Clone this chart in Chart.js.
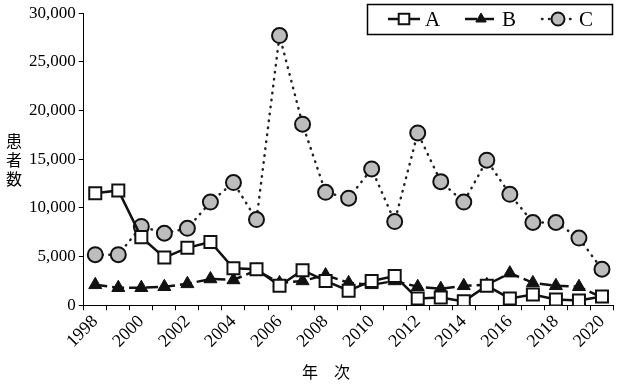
<!DOCTYPE html>
<html>
<head>
<meta charset="utf-8">
<script src="https://cdn.jsdelivr.net/npm/chart.js@4/dist/chart.umd.min.js"></script>
<style>
  html,body{margin:0;padding:0;background:#fff;}
  #wrap{width:624px;height:385px;position:relative;}
</style>
</head>
<body>
<div id="wrap"><canvas id="chart"></canvas></div>
<script>
const years = ['1998','1999','2000','2001','2002','2003','2004','2005','2006','2007','2008','2009',
  '2010','2011','2012','2013','2014','2015','2016','2017','2018','2019','2020'];
const seriesA = [11500,11800,7000,4900,5900,6500,3800,3700,2000,3600,2500,1500,2500,3000,700,800,400,2000,700,1100,600,500,900];
const seriesB = [2100,1800,1800,1900,2200,2700,2600,3600,2300,2500,3100,2300,2100,2500,1900,1700,2000,2100,3300,2300,2000,1900,800];
const seriesC = [5200,5200,8100,7400,7900,10600,12600,8800,27700,18600,11600,11000,14000,8600,17700,12700,10600,14900,11400,8500,8500,6900,3700];
const yTitle = ['患','者','数'];
const xTitle = '年　次';

const serif = '"Liberation Serif", "DejaVu Serif", serif';
const cjk = '"Noto Sans CJK JP", sans-serif';

const overlay = {
  id:'overlay',
  afterDraw(chart){
    const {ctx} = chart;
    ctx.save();
    ctx.fillStyle = '#000';
    ctx.textAlign = 'center'; ctx.textBaseline = 'middle';
    ctx.font = '16px ' + cjk;
    yTitle.forEach((ch,i) => ctx.fillText(ch, 14, 141 + i*19));
    ctx.fillText(xTitle, 326, 372);

    // legend box inside the plot
    ctx.lineWidth = 1.5; ctx.strokeStyle = '#000';
    ctx.strokeRect(367.5, 4.5, 245, 30);
    const items = chart.data.datasets.map((ds,i) => ({ds, x: 388 + i*77}));
    items.forEach(({ds,x}) => {
      ctx.save();
      ctx.lineWidth = ds.borderWidth; ctx.strokeStyle = ds.borderColor;
      ctx.setLineDash(ds.borderDash || []); ctx.lineCap = ds.borderCapStyle || 'butt';
      ctx.beginPath(); ctx.moveTo(x, 19); ctx.lineTo(x+32, 19); ctx.stroke();
      ctx.restore();
      ctx.save();
      ctx.fillStyle = ds.pointBackgroundColor; ctx.strokeStyle = ds.pointBorderColor;
      ctx.lineWidth = ds.pointBorderWidth;
      Chart.helpers.drawPoint(ctx, {pointStyle: ds.pointStyle, radius: ds.legendRadius, borderWidth: ds.pointBorderWidth}, x+16, 19);
      ctx.restore();
      ctx.font = '21px ' + serif; ctx.textAlign = 'left';
      ctx.fillText(ds.label, x+37, 20);
    });
    ctx.restore();
  }
};

new Chart(document.getElementById('chart'), {
  type:'line',
  data:{ labels: years, datasets:[
    { label:'A', data:seriesA, borderColor:'#111', borderWidth:2.5, pointStyle:'rect', pointRadius:8.5, legendRadius:7.5,
      pointBackgroundColor:'#fff', pointBorderColor:'#111', pointBorderWidth:2, tension:0 },
    { label:'B', data:seriesB, borderColor:'#111', borderWidth:2.5, borderDash:[12,5], pointStyle:'triangle', pointRadius:7.5, legendRadius:6,
      pointBackgroundColor:'#111', pointBorderColor:'#111', pointBorderWidth:1, tension:0 },
    { label:'C', data:seriesC, borderColor:'#222', borderWidth:2.5, borderDash:[0.5,6.5], borderCapStyle:'round', pointStyle:'circle', pointRadius:7.5, legendRadius:6.5,
      pointBackgroundColor:'#bdbdbd', pointBorderColor:'#111', pointBorderWidth:2, tension:0 }
  ]},
  options:{
    responsive:true, maintainAspectRatio:false, animation:false,
    layout:{ padding:{ left:26, right:10, top:4, bottom:32 } },
    plugins:{ legend:{ display:false }, tooltip:{ enabled:false } },
    scales:{
      x:{
        offset:true,
        grid:{ display:true, offset:true, drawOnChartArea:false, drawTicks:true, tickLength:5, color:'#000' },
        border:{ color:'#000', width:1 },
        ticks:{ autoSkip:false, maxRotation:45, minRotation:45, color:'#000', font:{ family:serif, size:18 }, padding:1,
          callback(v,i){ return i % 2 === 0 ? this.getLabelForValue(v) : ''; } }
      },
      y:{
        min:0, max:30000,
        grid:{ display:true, drawOnChartArea:false, drawTicks:true, tickLength:5, color:'#000' },
        border:{ color:'#000', width:1 },
        ticks:{ stepSize:5000, color:'#000', font:{ family:serif, size:17 }, padding:3,
          callback:v => v.toLocaleString('en-US') }
      }
    }
  },
  plugins:[overlay]
});
</script>
</body>
</html>
